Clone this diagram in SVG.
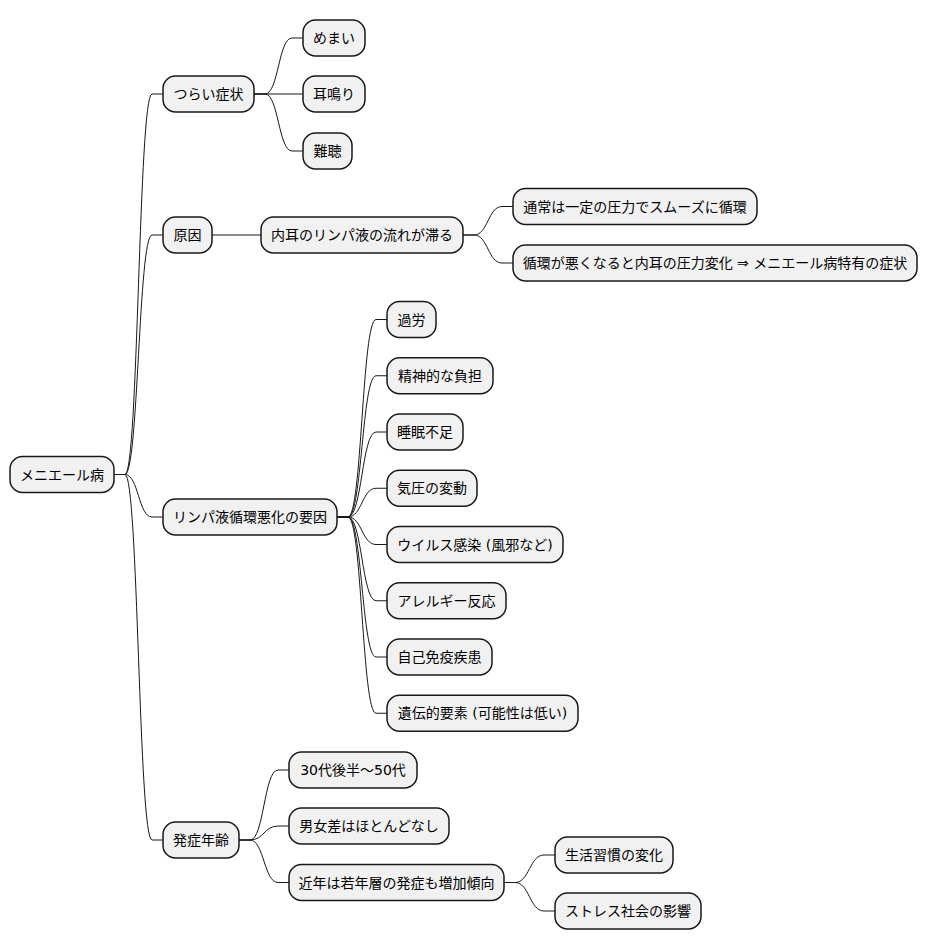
<svg xmlns="http://www.w3.org/2000/svg" width="929" height="949" viewBox="0 0 929 949">
<style>
.n rect{fill:#F1F1F1;stroke:#181818;stroke-width:1.5}
.n text{font-family:"DejaVu Sans","Noto Sans CJK JP",sans-serif;font-size:14px;fill:#000;text-anchor:middle}
#connectors path{fill:none;stroke:#181818;stroke-width:1}
</style>
<rect width="929" height="949" fill="#FFFFFF"/>
<g id="connectors">
<path d="M114,474.5 L125,474.5 C138.5,474.5 138.5,94 152,94 L163,94"/>
<path d="M114,474.5 L125,474.5 C138.5,474.5 138.5,235 152,235 L163,235"/>
<path d="M114,474.5 L125,474.5 C138.5,474.5 138.5,517 152,517 L163,517"/>
<path d="M114,474.5 L125,474.5 C138.5,474.5 138.5,840 152,840 L163,840"/>
<path d="M254,94 L265,94 C278.5,94 278.5,38 292,38 L303,38"/>
<path d="M254,94 L303,94"/>
<path d="M254,94 L265,94 C278.5,94 278.5,151 292,151 L303,151"/>
<path d="M212,235 L261,235"/>
<path d="M463,235 L474,235 C488,235 488,206.5 502,206.5 L513,206.5"/>
<path d="M463,235 L474,235 C488,235 488,263 502,263 L513,263"/>
<path d="M337,517 L348,517 C362,517 362,319.5 376,319.5 L387,319.5"/>
<path d="M337,517 L348,517 C362,517 362,375.75 376,375.75 L387,375.75"/>
<path d="M337,517 L348,517 C362,517 362,432 376,432 L387,432"/>
<path d="M337,517 L348,517 C362,517 362,488.25 376,488.25 L387,488.25"/>
<path d="M337,517 L348,517 C362,517 362,544.5 376,544.5 L387,544.5"/>
<path d="M337,517 L348,517 C362,517 362,600.75 376,600.75 L387,600.75"/>
<path d="M337,517 L348,517 C362,517 362,657 376,657 L387,657"/>
<path d="M337,517 L348,517 C362,517 362,713.25 376,713.25 L387,713.25"/>
<path d="M239,840 L250,840 C264,840 264,770 278,770 L289,770"/>
<path d="M239,840 L250,840 C264,840 264,826 278,826 L289,826"/>
<path d="M239,840 L250,840 C264,840 264,882.5 278,882.5 L289,882.5"/>
<path d="M504,882.5 L515,882.5 C529.5,882.5 529.5,855 544,855 L555,855"/>
<path d="M504,882.5 L515,882.5 C529.5,882.5 529.5,911 544,911 L555,911"/>
</g>
<g id="root" class="n"><rect x="10" y="456.5" width="104" height="36" rx="12.5"/><text x="62" y="479.5">メニエール病</text></g>
<g id="n1" class="n"><rect x="163" y="76" width="91" height="36" rx="12.5"/><text x="208.5" y="99">つらい症状</text></g>
<g id="n1a" class="n"><rect x="303" y="20" width="62" height="36" rx="12.5"/><text x="334" y="43">めまい</text></g>
<g id="n1b" class="n"><rect x="303" y="76" width="62" height="36" rx="12.5"/><text x="334" y="99">耳鳴り</text></g>
<g id="n1c" class="n"><rect x="303" y="133" width="49" height="36" rx="12.5"/><text x="327.5" y="156">難聴</text></g>
<g id="n2" class="n"><rect x="163" y="217" width="49" height="36" rx="12.5"/><text x="187.5" y="240">原因</text></g>
<g id="n2a" class="n"><rect x="261" y="217" width="202" height="36" rx="12.5"/><text x="362" y="240">内耳のリンパ液の流れが滞る</text></g>
<g id="n2a1" class="n"><rect x="513" y="188.5" width="244" height="36" rx="12.5"/><text x="635" y="211.5">通常は一定の圧力でスムーズに循環</text></g>
<g id="n2a2" class="n"><rect x="513" y="245" width="404" height="36" rx="12.5"/><text x="715" y="268">循環が悪くなると内耳の圧力変化 ⇒ メニエール病特有の症状</text></g>
<g id="n3" class="n"><rect x="163" y="499" width="174" height="36" rx="12.5"/><text x="250" y="522">リンパ液循環悪化の要因</text></g>
<g id="n3a" class="n"><rect x="387" y="301.5" width="49" height="36" rx="12.5"/><text x="411.5" y="324.5">過労</text></g>
<g id="n3b" class="n"><rect x="387" y="357.75" width="106" height="36" rx="12.5"/><text x="440" y="380.75">精神的な負担</text></g>
<g id="n3c" class="n"><rect x="387" y="414" width="76" height="36" rx="12.5"/><text x="425" y="437">睡眠不足</text></g>
<g id="n3d" class="n"><rect x="387" y="470.25" width="90" height="36" rx="12.5"/><text x="432" y="493.25">気圧の変動</text></g>
<g id="n3e" class="n"><rect x="387" y="526.5" width="176" height="36" rx="12.5"/><text x="475" y="549.5">ウイルス感染 (風邪など)</text></g>
<g id="n3f" class="n"><rect x="387" y="582.75" width="119" height="36" rx="12.5"/><text x="446.5" y="605.75">アレルギー反応</text></g>
<g id="n3g" class="n"><rect x="387" y="639" width="105" height="36" rx="12.5"/><text x="439.5" y="662">自己免疫疾患</text></g>
<g id="n3h" class="n"><rect x="387" y="695.25" width="191" height="36" rx="12.5"/><text x="482.5" y="718.25">遺伝的要素 (可能性は低い)</text></g>
<g id="n4" class="n"><rect x="163" y="822" width="76" height="36" rx="12.5"/><text x="201" y="845">発症年齢</text></g>
<g id="n4a" class="n"><rect x="289" y="752" width="128" height="36" rx="12.5"/><text x="353" y="775">30代後半〜50代</text></g>
<g id="n4b" class="n"><rect x="289" y="808" width="160" height="36" rx="12.5"/><text x="369" y="831">男女差はほとんどなし</text></g>
<g id="n4c" class="n"><rect x="289" y="864.5" width="215" height="36" rx="12.5"/><text x="396.5" y="887.5">近年は若年層の発症も増加傾向</text></g>
<g id="n4c1" class="n"><rect x="555" y="837" width="118" height="36" rx="12.5"/><text x="614" y="860">生活習慣の変化</text></g>
<g id="n4c2" class="n"><rect x="555" y="893" width="146" height="36" rx="12.5"/><text x="628" y="916">ストレス社会の影響</text></g>
</svg>
